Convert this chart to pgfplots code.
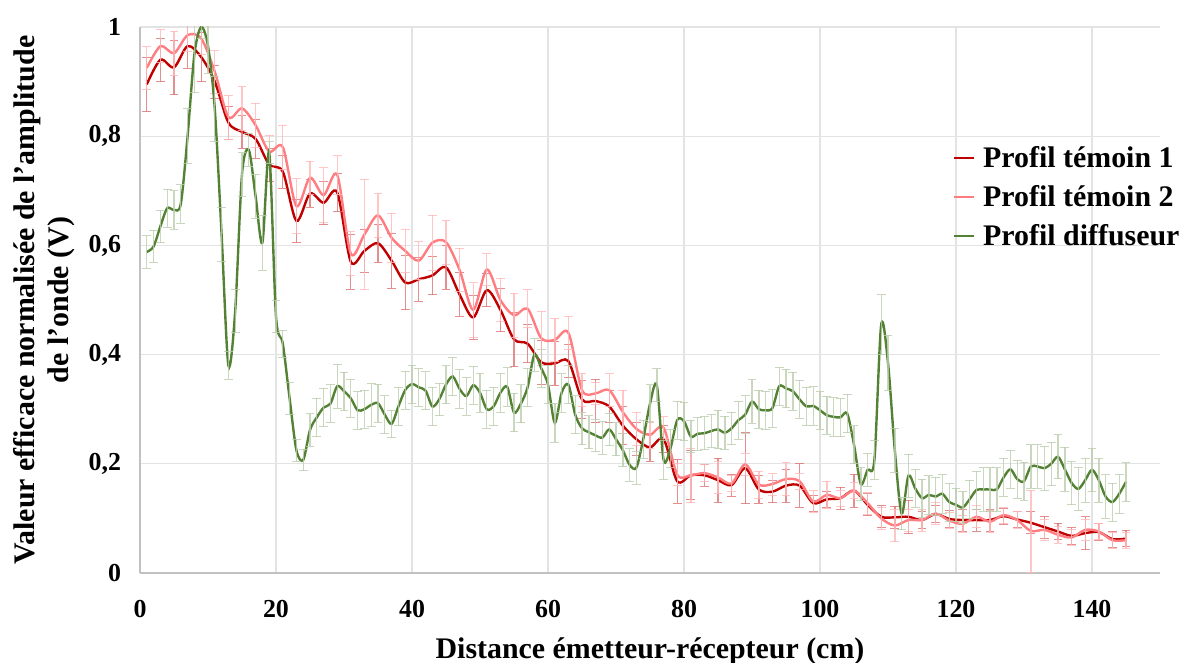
\documentclass[border=0pt]{standalone}
\usepackage{pgfplots}
\pgfplotsset{compat=1.18}
\usepackage{pgfplotstable}
\usepackage{fontspec}
\setmainfont{Liberation Serif}
\definecolor{tone}{HTML}{C00000}
\definecolor{ttwo}{HTML}{FF7C80}
\definecolor{gdif}{HTML}{548235}
\definecolor{gridc}{HTML}{E3E3E3}

\pgfplotstableread{
x y e
1 0.895 0.05
3 0.94 0.04
5 0.926 0.05
7 0.965 0.04
9 0.945 0.045
11 0.90 0.03
13 0.825 0.03
15 0.808 0.03
17 0.795 0.035
19 0.748 0.03
21 0.735 0.03
23 0.645 0.04
25 0.695 0.025
27 0.678 0.04
29 0.697 0.035
31 0.57 0.05
33 0.59 0.04
35 0.604 0.035
37 0.572 0.05
39 0.532 0.05
41 0.538 0.04
43 0.545 0.035
45 0.56 0.04
47 0.51 0.04
49 0.468 0.04
51 0.518 0.03
53 0.482 0.04
55 0.428 0.05
57 0.42 0.035
59 0.386 0.04
61 0.384 0.04
63 0.388 0.03
65 0.318 0.035
67 0.315 0.04
69 0.305 0.03
71 0.27 0.035
73 0.245 0.03
75 0.23 0.025
77 0.245 0.025
79 0.168 0.04
81 0.179 0.045
83 0.179 0.02
85 0.17 0.04
87 0.161 0.02
89 0.192 0.065
91 0.153 0.025
93 0.149 0.02
95 0.16 0.03
97 0.16 0.04
99 0.128 0.015
101 0.135 0.015
103 0.137 0.02
105 0.151 0.03
107 0.125 0.02
109 0.103 0.02
111 0.102 0.02
113 0.103 0.03
115 0.097 0.015
117 0.108 0.015
119 0.099 0.015
121 0.097 0.02
123 0.097 0.02
125 0.097 0.02
127 0.104 0.015
129 0.098 0.015
131 0.092 0.02
133 0.084 0.02
135 0.076 0.015
137 0.068 0.015
139 0.073 0.03
141 0.075 0.015
143 0.062 0.015
145 0.063 0.015
}\tone

\pgfplotstableread{
x y e
1 0.925 0.04
3 0.965 0.03
5 0.952 0.04
7 0.985 0.03
9 0.979 0.03
11 0.918 0.04
13 0.835 0.04
15 0.851 0.04
17 0.82 0.04
19 0.772 0.03
21 0.78 0.04
23 0.672 0.05
25 0.724 0.03
27 0.692 0.05
29 0.729 0.035
31 0.585 0.04
33 0.62 0.1
35 0.655 0.04
37 0.614 0.045
39 0.59 0.04
41 0.572 0.035
43 0.605 0.05
45 0.606 0.04
47 0.555 0.04
49 0.482 0.05
51 0.556 0.03
53 0.50 0.04
55 0.472 0.04
57 0.484 0.035
59 0.43 0.05
61 0.427 0.04
63 0.44 0.03
65 0.335 0.03
67 0.329 0.02
69 0.335 0.03
71 0.295 0.04
73 0.264 0.03
75 0.253 0.025
77 0.266 0.02
79 0.18 0.02
81 0.179 0.05
83 0.183 0.015
85 0.175 0.03
87 0.164 0.015
89 0.199 0.02
91 0.162 0.025
93 0.163 0.02
95 0.172 0.03
97 0.168 0.015
99 0.131 0.02
101 0.143 0.025
103 0.137 0.015
105 0.151 0.015
107 0.128 0.02
109 0.10 0.02
111 0.087 0.03
113 0.097 0.02
115 0.097 0.02
117 0.109 0.02
119 0.096 0.015
121 0.09 0.015
123 0.103 0.02
125 0.094 0.02
127 0.106 0.015
129 0.097 0.015
131 0.077 0.075
133 0.079 0.02
135 0.07 0.015
137 0.065 0.015
139 0.079 0.02
141 0.076 0.015
143 0.06 0.015
145 0.06 0.015
}\ttwo

\pgfplotstableread{
x y e
1 0.588 0.03
2 0.598 0.03
3 0.635 0.03
4 0.668 0.035
5 0.665 0.035
6 0.676 0.035
7 0.80 0.05
8 0.95 0.07
9 1.0 0.02
10 0.965 0.05
11 0.85 0.06
12 0.62 0.05
13 0.38 0.025
14 0.48 0.04
15 0.73 0.04
16 0.775 0.03
17 0.69 0.04
18 0.605 0.05
19 0.77 0.02
20 0.47 0.03
21 0.42 0.025
22 0.32 0.03
23 0.225 0.02
24 0.207 0.02
25 0.262 0.03
26 0.285 0.035
27 0.303 0.035
28 0.31 0.035
29 0.342 0.04
30 0.333 0.035
31 0.32 0.035
32 0.298 0.035
33 0.30 0.035
34 0.308 0.04
35 0.311 0.035
36 0.29 0.035
37 0.273 0.025
38 0.305 0.035
39 0.335 0.035
40 0.346 0.035
41 0.34 0.035
42 0.334 0.035
43 0.305 0.035
44 0.318 0.03
45 0.345 0.035
46 0.36 0.035
47 0.337 0.035
48 0.324 0.035
49 0.344 0.035
50 0.33 0.035
51 0.30 0.035
52 0.305 0.035
53 0.33 0.035
54 0.341 0.035
55 0.294 0.035
56 0.31 0.035
57 0.34 0.035
58 0.40 0.03
59 0.375 0.035
60 0.345 0.035
61 0.275 0.035
62 0.33 0.035
63 0.345 0.035
64 0.29 0.035
65 0.265 0.03
66 0.258 0.03
67 0.252 0.03
68 0.248 0.03
69 0.263 0.03
70 0.245 0.03
71 0.225 0.03
72 0.198 0.03
73 0.193 0.03
74 0.245 0.035
75 0.31 0.035
76 0.344 0.03
77 0.207 0.035
78 0.228 0.035
79 0.28 0.035
80 0.278 0.035
81 0.25 0.03
82 0.255 0.03
83 0.256 0.03
84 0.26 0.03
85 0.263 0.035
86 0.257 0.03
87 0.265 0.03
88 0.28 0.035
89 0.29 0.035
90 0.314 0.04
91 0.30 0.035
92 0.298 0.035
93 0.302 0.035
94 0.342 0.035
95 0.338 0.035
96 0.333 0.035
97 0.318 0.035
98 0.305 0.035
99 0.306 0.035
100 0.298 0.035
101 0.289 0.035
102 0.286 0.035
103 0.285 0.035
104 0.292 0.035
105 0.235 0.035
106 0.163 0.03
107 0.189 0.03
108 0.207 0.035
109 0.455 0.055
110 0.385 0.05
111 0.225 0.04
112 0.109 0.03
113 0.178 0.04
114 0.155 0.035
115 0.137 0.035
116 0.143 0.035
117 0.14 0.035
118 0.145 0.035
119 0.13 0.035
120 0.125 0.03
121 0.12 0.03
122 0.135 0.035
123 0.152 0.035
124 0.153 0.04
125 0.153 0.04
126 0.153 0.04
127 0.175 0.035
128 0.19 0.035
129 0.172 0.035
130 0.168 0.035
131 0.195 0.04
132 0.195 0.04
133 0.192 0.04
134 0.20 0.04
135 0.213 0.04
136 0.19 0.04
137 0.165 0.04
138 0.154 0.04
139 0.17 0.04
140 0.189 0.04
141 0.17 0.04
142 0.14 0.04
143 0.13 0.035
144 0.145 0.035
145 0.167 0.035
}\gdiff

\begin{document}
\begin{tikzpicture}
\useasboundingbox (-70bp,-45bp) rectangle (526bp,286.5bp);
\begin{axis}[
  scale only axis,
  width=510bp, height=273bp,
  xmin=0, xmax=150, ymin=0, ymax=1,
  xtick={0,20,...,140},
  ytick={0,0.2,...,1},
  grid=major,
  major grid style={gridc, line width=0.6pt},
  axis lines=left,
  axis line style={-, draw=gridc!85!black, line width=0.6pt},
  major tick length=0pt,
  /pgf/number format/use comma,
  /pgf/number format/assume math mode=true,
  ticklabel style={font=\bfseries\fontsize{13}{15}\selectfont},
  yticklabel style={xshift=-6bp},
  xticklabel style={yshift=-10bp},
  xlabel={Distance émetteur-récepteur (cm)},
  ylabel={Valeur efficace normalisée de l’amplitude\\de l’onde (V)},
  label style={font=\bfseries\fontsize{15}{17}\selectfont},
  ylabel style={align=center, at={(rel axis cs:0,0.5)}, anchor=center, rotate=0, yshift=48bp},
  xlabel style={at={(rel axis cs:0.5,0)}, anchor=north, yshift=-29bp},
  legend style={at={(rel axis cs:0.797,0.79)}, anchor=north west, draw=none, fill=none,
    font=\bfseries\fontsize{15}{17}\selectfont, row sep=3.5bp, inner sep=0pt},
  legend cell align=left,
  legend image code/.code={\draw[#1, line width=0.7pt] (0bp,0bp) -- (10bp,0bp); \path (12bp,0bp);},
  error bars/y dir=both, error bars/y explicit,
  error bars/error mark options={rotate=90, mark size=2.2bp},
]
\addplot[tone, line width=1.2pt, smooth, mark=none,
  error bars/error bar style={tone!55!white, line width=0.7pt, opacity=0.8}]
  table[x=x, y=y, y error=e]{\tone};
\addlegendentry{Profil témoin 1}
\addplot[ttwo, line width=1.2pt, smooth, mark=none,
  error bars/error bar style={ttwo!55!white, line width=0.7pt, opacity=0.8}]
  table[x=x, y=y, y error=e]{\ttwo};
\addlegendentry{Profil témoin 2}
\addplot[gdif, line width=1.2pt, smooth, mark=none,
  error bars/error bar style={gdif!40!white, line width=0.7pt, opacity=0.8}]
  table[x=x, y=y, y error=e]{\gdiff};
\addlegendentry{Profil diffuseur}
\end{axis}
\end{tikzpicture}
\end{document}
